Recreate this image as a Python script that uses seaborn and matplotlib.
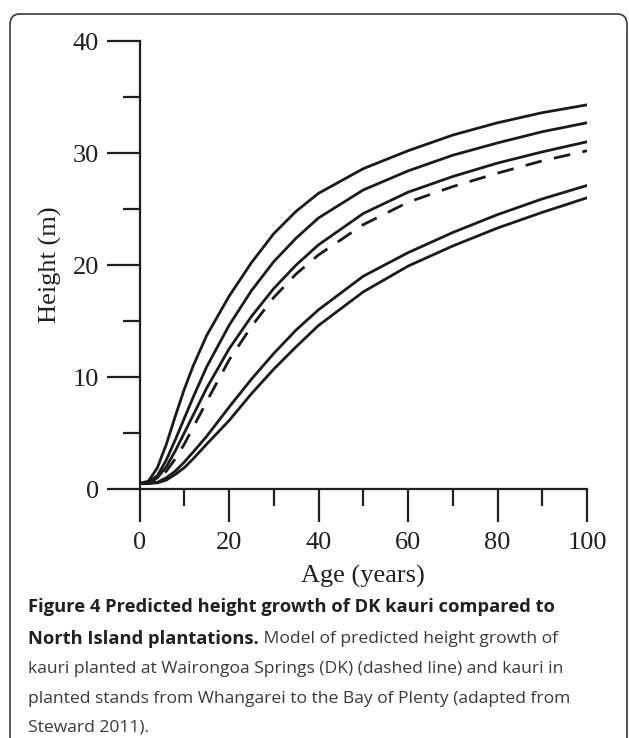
import numpy as np
import pandas as pd
import matplotlib
matplotlib.use("Agg")
import matplotlib.pyplot as plt
from matplotlib.patches import FancyBboxPatch
import seaborn as sns

# ---- data ----
ages = [0, 2, 4, 6, 8, 10, 12, 15, 20, 25, 30, 35, 40, 50, 60, 70, 80, 90, 100]
plantation_1 = [0.5, 0.7, 1.9, 4.0, 6.5, 8.9, 11.0, 13.7, 17.2, 20.2, 22.8, 24.8, 26.4, 28.6, 30.2, 31.6, 32.7, 33.6, 34.3]
plantation_2 = [0.5, 0.6, 1.2, 2.6, 4.4, 6.3, 8.2, 10.9, 14.6, 17.7, 20.3, 22.4, 24.2, 26.7, 28.4, 29.8, 30.9, 31.9, 32.7]
plantation_3 = [0.5, 0.55, 1.0, 2.0, 3.4, 5.0, 6.6, 9.0, 12.5, 15.4, 17.9, 20.0, 21.8, 24.6, 26.5, 27.9, 29.1, 30.1, 31.0]
dk_kauri = [0.5, 0.5, 0.8, 1.6, 2.7, 4.0, 5.5, 7.8, 11.5, 14.5, 17.1, 19.2, 20.9, 23.6, 25.6, 27.0, 28.2, 29.3, 30.2]
plantation_4 = [0.5, 0.5, 0.6, 1.0, 1.6, 2.4, 3.3, 4.7, 7.3, 9.8, 12.1, 14.2, 16.0, 19.0, 21.1, 22.9, 24.5, 25.9, 27.1]
plantation_5 = [0.5, 0.5, 0.55, 0.8, 1.3, 1.9, 2.7, 4.0, 6.1, 8.5, 10.7, 12.7, 14.6, 17.6, 19.9, 21.7, 23.3, 24.7, 26.0]

series_names = ["P1", "P2", "P3", "DK", "P4", "P5"]
series_vals = [plantation_1, plantation_2, plantation_3, dk_kauri, plantation_4, plantation_5]

x_ticks = [0, 20, 40, 60, 80, 100]
y_ticks = [0, 10, 20, 30, 40]
x_label = "Age (years)"
y_label = "Height (m)"
caption_bold_1 = "Figure 4 Predicted height growth of DK kauri compared to"
caption_bold_2 = "North Island plantations."
caption_rest_2 = " Model of predicted height growth of"
caption_lines = [
    "kauri planted at Wairongoa Springs (DK) (dashed line) and kauri in",
    "planted stands from Whangarei to the Bay of Plenty (adapted from",
    "Steward 2011).",
]

rows = []
for name, vals in zip(series_names, series_vals):
    for a, h in zip(ages, vals):
        rows.append({"age": a, "height": h, "curve": name})
df = pd.DataFrame(rows)

sns.set_style("white")
plt.rcParams["font.family"] = ["Liberation Serif", "DejaVu Serif"]

W, H = 629, 738
fig = plt.figure(figsize=(W / 100, H / 100), dpi=100)
ax = fig.add_axes([139.5 / W, 1 - 489 / H, (587 - 139.5) / W, (489 - 41) / H])

palette = {n: "#1a1a1a" for n in series_names}
dashes = {n: "" for n in series_names}
dashes["DK"] = (6, 4.5)
sns.lineplot(data=df, x="age", y="height", hue="curve", style="curve",
             palette=palette, dashes=dashes, linewidth=2.0, legend=False,
             ax=ax, hue_order=series_names, style_order=series_names)

ax.set_xlim(0, 100)
ax.set_ylim(0, 40)
ax.margins(0)
for s in ["top", "right"]:
    ax.spines[s].set_visible(False)
for s in ["left", "bottom"]:
    ax.spines[s].set_linewidth(1.6)
    ax.spines[s].set_color("#231f20")

ax.set_xticks(x_ticks)
ax.set_yticks(y_ticks)
ax.set_xticks([10, 30, 50, 70, 90], minor=True)
ax.set_yticks([5, 15, 25, 35], minor=True)
ax.tick_params(axis="both", which="major", direction="out", length=24, width=1.6,
               color="#231f20", labelsize=19, labelcolor="#231f20")
ax.tick_params(axis="both", which="minor", direction="out", length=12, width=1.6,
               color="#231f20")
ax.tick_params(axis="x", which="major", pad=7)
ax.tick_params(axis="y", which="major", pad=5)
ax.tick_params(bottom=True, left=True, which="both")

ax.set_xlabel(x_label, fontsize=19, color="#231f20", labelpad=0)
ax.set_ylabel(y_label, fontsize=19, color="#231f20", labelpad=4)
ax.yaxis.label.set_va("center")
ax.yaxis.set_label_coords((50 - 139.5) / (587 - 139.5), 0.5)
ax.xaxis.set_label_coords(0.5, -(576 - 489) / (489 - 41))
ax.xaxis.label.set_va("center")

# Border
border = FancyBboxPatch((10 / W, -0.02), (627 - 10) / W, (H - 14) / H + 0.02,
                        boxstyle="round,pad=0,rounding_size=0.015",
                        transform=fig.transFigure, fill=False,
                        edgecolor="#3a3a3a", linewidth=1.2, clip_on=False)
fig.patches.append(border)

# Caption
cap_font = ["Open Sans", "DejaVu Sans"]
bold_size = 13.2
reg_size = 12.6
x0 = 28 / W
line_y = [607, 639, 669, 699, 728]
fig.text(x0, 1 - line_y[0] / H, caption_bold_1, family=cap_font, fontsize=bold_size,
         fontweight="bold", color="#231f20", va="center", ha="left")
t_b = fig.text(x0, 1 - line_y[1] / H, caption_bold_2, family=cap_font, fontsize=bold_size,
               fontweight="bold", color="#231f20", va="center", ha="left")
fig.canvas.draw()
r = fig.canvas.get_renderer()
bb = t_b.get_window_extent(renderer=r)
fig.text(bb.x1 / W, 1 - line_y[1] / H, caption_rest_2, family=cap_font, fontsize=reg_size,
         color="#3a3a3a", va="center", ha="left")
for ln, yy in zip(caption_lines, line_y[2:]):
    fig.text(x0, 1 - yy / H, ln, family=cap_font, fontsize=reg_size,
             color="#3a3a3a", va="center", ha="left")

fig.savefig("out.png", dpi=100)
